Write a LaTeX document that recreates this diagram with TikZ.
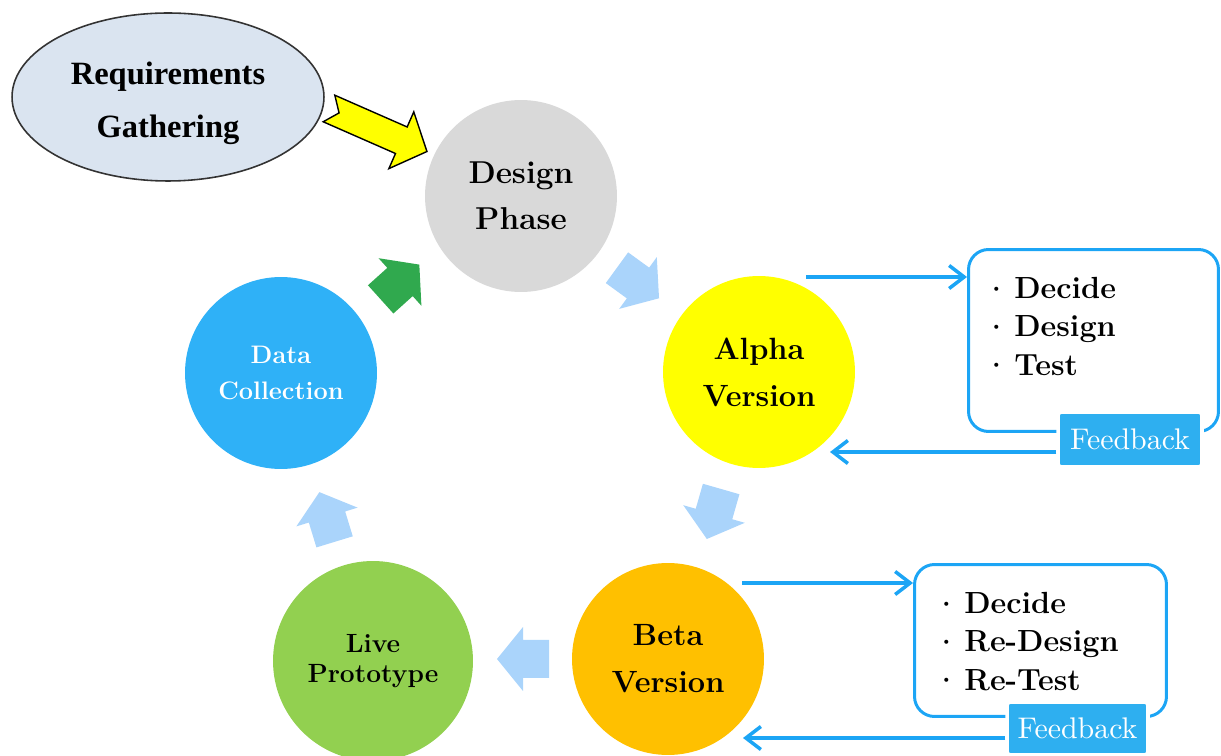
\documentclass[tikz,border=0pt]{standalone}
\usepackage{fontspec}
\newfontfamily\reqfont{Liberation Serif}
\usetikzlibrary{arrows.meta,shapes.geometric}

\definecolor{reqfill}{HTML}{DAE4F0}
\definecolor{designgray}{HTML}{D9D9D9}
\definecolor{alphayellow}{HTML}{FFFF00}
\definecolor{betaorange}{HTML}{FFC000}
\definecolor{livegreen}{HTML}{92D050}
\definecolor{datablue}{HTML}{2FB1F7}
\definecolor{paleblue}{HTML}{AAD4FB}
\definecolor{darkgreen}{HTML}{30A94E}
\definecolor{lineblue}{HTML}{1CA5F5}
\definecolor{fbblue}{HTML}{2EAFF0}

\tikzset{
  phase/.style={circle, inner sep=0pt, minimum size=3.84cm, align=center},
  listbox/.style={draw=lineblue, line width=1.7pt, rounded corners=0.4cm, inner sep=0pt},
  listtext/.style={anchor=north west, inner sep=0pt, align=left,
    font={\fontsize{17.4}{21.8}\selectfont\bfseries}},
  fbtag/.style={fill=fbblue, draw=white, line width=2pt, rounded corners=2pt,
    text=white, inner sep=0pt},
  fbline/.style={lineblue, line width=2pt, -{Straight Barb[length=0.3cm, width=0.46cm]}},
  pics/fatarrow/.style={code={
    \fill[#1] (-26,-19) -- (0,-19) -- (0,-32) -- (26,0) -- (0,32) -- (0,19) -- (-26,19) -- cycle;
  }}
}
\newcommand{\litem}[1]{\makebox[0.48cm][l]{\raisebox{0.13cm}{\scalebox{0.45}{\textbullet}}}#1}
\newcommand{\fbword}{\scalebox{1.7}{\fontsize{10}{12}\selectfont Feedback}}

\begin{document}
\begin{tikzpicture}[x=0.02cm,y=-0.02cm]
\useasboundingbox (0,0) rectangle (1221,756);

% start
\node[ellipse, draw=black!80, line width=0.9pt, fill=reqfill, inner sep=0pt,
  minimum width=6.24cm, minimum height=3.36cm] (req) at (168,97) {};
\node[align=center, font={\reqfont\bfseries\fontsize{18.5}{30}\selectfont}] (reqtext) at (168,103) {Requirements\\Gathering};
\filldraw[fill=alphayellow, draw=black, line width=0.8pt, shift={(329,108.5)}, rotate=-23.7]
  (0,-14.5) -- (79,-14.5) -- (79,-31) -- (107,0) -- (79,31) -- (79,14.5) -- (0,14.5) -- (11,0) -- cycle;

% cycle of phases
\node[phase, fill=designgray, font={\fontsize{18}{26.2}\selectfont\bfseries}] (design) at (521,196) {Design\\Phase};
\node[phase, fill=alphayellow, font={\fontsize{17.5}{26.7}\selectfont\bfseries}] (alpha) at (759,372) {Alpha\\Version};
\node[phase, fill=betaorange, font={\fontsize{17.5}{26.7}\selectfont\bfseries}] (beta) at (668,659) {Beta\\Version};
\node[phase, fill=livegreen, minimum size=4cm, font={\fontsize{15}{17}\selectfont\bfseries}] (live) at (373,661) {Live\\Prototype};
\node[phase, fill=datablue, text=white, font={\fontsize{14.4}{21}\selectfont\bfseries}] (data) at (281,373) {Data\\Collection};

\pic[rotate=-36] at (638,283) {fatarrow=paleblue};
\pic[rotate=-106] at (714,514) {fatarrow=paleblue};
\pic[rotate=180] at (523,659) {fatarrow=paleblue};
\pic[rotate=107] at (327,517) {fatarrow=paleblue};
\pic[rotate=42] at (400,282) {fatarrow=darkgreen};

% alpha loop
\node[listbox, minimum width=5cm, minimum height=3.64cm] (alphabox) at (1093.5,340.5) {};
\node[listtext] (alphalist) at (990,277) {\litem{Decide}\\\litem{Design}\\\litem{Test}};
\node[fbtag, minimum width=2.88cm, minimum height=1.1cm] (fbalpha) at (1130,439.5) {\fbword};
\coordinate (alphaout) at (806,277);
\coordinate (alphain) at (830,452);
\draw[fbline] (alphaout) -- (alphaout -| alphabox.west);
\draw[fbline] (fbalpha.west |- alphain) -- (alphain);

% beta loop
\node[listbox, minimum width=5.04cm, minimum height=3.04cm] (betabox) at (1040.5,640.5) {};
\node[listtext] (betalist) at (940,592) {\litem{Decide}\\\litem{Re-Design}\\\litem{Re-Test}};
\node[fbtag, minimum width=2.82cm, minimum height=1.06cm] (fbbeta) at (1077.5,728.5) {\fbword};
\coordinate (betaout) at (742,583);
\coordinate (betain) at (743,738);
\draw[fbline] (betaout) -- (betaout -| betabox.west);
\draw[fbline] (fbbeta.west |- betain) -- (betain);
\end{tikzpicture}
\end{document}
